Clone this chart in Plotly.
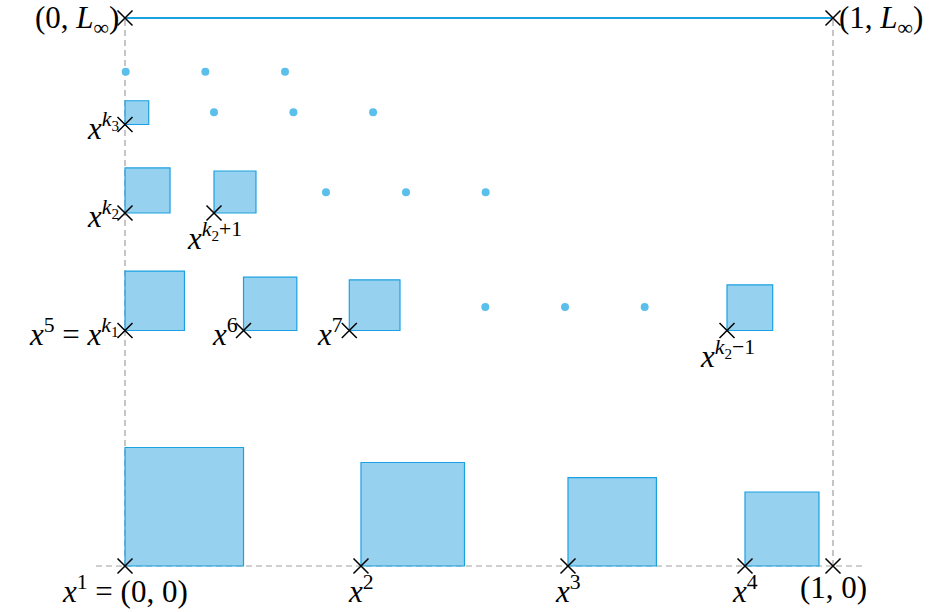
import plotly.graph_objects as go

# ---- data (x in [0,1], y in the same units; L_inf is the top level) ----
L_INF = 0.774

# square origins (lower-left corners, also the marked points) and side lengths
sq_x = [0.0, 0.3333, 0.6257, 0.8757,      # bottom row x^1..x^4
        0.0, 0.1674, 0.3168, 0.8503,      # row x^5(=x^{k1}), x^6, x^7, x^{k2-1}
        0.0, 0.1257,                      # row x^{k2}, x^{k2+1}
        0.0]                              # row x^{k3}
sq_y = [0.0, 0.0, 0.0, 0.0,
        0.3326, 0.3326, 0.3326, 0.3326,
        0.4986, 0.4986,
        0.6236]
sq_s = [0.1674, 0.1462, 0.1249, 0.1045,
        0.0840, 0.0753, 0.0716, 0.0645,
        0.0636, 0.0593,
        0.0335]
sq_labels = ["<i>x</i><sup>1</sup> = (0, 0)", "<i>x</i><sup>2</sup>", "<i>x</i><sup>3</sup>", "<i>x</i><sup>4</sup>",
             "<i>x</i><sup>5</sup> = <i>x</i><sup><i>k</i><sub>1</sub></sup>", "<i>x</i><sup>6</sup>", "<i>x</i><sup>7</sup>",
             "<i>x</i><sup><i>k</i><sub>2</sub>−1</sup>",
             "<i>x</i><sup><i>k</i><sub>2</sub></sup>", "<i>x</i><sup><i>k</i><sub>2</sub>+1</sup>",
             "<i>x</i><sup><i>k</i><sub>3</sub></sup>"]
# label placement: 'below', 'left'
sq_label_pos = ["below", "below", "below", "below",
                "left", "left", "left", "below",
                "left", "below",
                "left"]

# continuation dots
dot_x = [0.5089, 0.6215, 0.7340,
         0.2839, 0.3969, 0.5094,
         0.1257, 0.2379, 0.3504,
         0.0010, 0.1135, 0.2260]
dot_y = [0.3658, 0.3658, 0.3658,
         0.5278, 0.5278, 0.5278,
         0.6408, 0.6408, 0.6408,
         0.6982, 0.6982, 0.6982]

# corner points
corner_x = [1.0, 0.0, 1.0]
corner_y = [0.0, L_INF, L_INF]
corner_labels = ["(1, 0)", "(0, <i>L</i><sub>∞</sub>)", "(1, <i>L</i><sub>∞</sub>)"]
corner_pos = ["below", "left", "right"]

LINE_BLUE = "#1BA1E2"
FILL_BLUE = "rgba(120,196,236,0.78)"
DOT_BLUE = "#5BBFEB"
FONT = "Liberation Serif"

fig = go.Figure()

# dashed guide lines
fig.add_trace(go.Scatter(x=[-0.041, 1.045], y=[0, 0], mode="lines",
                         line=dict(color="#a0a0a0", width=1.2, dash="6px,4px"), hoverinfo="skip"))
fig.add_trace(go.Scatter(x=[0, 0], y=[0, L_INF], mode="lines",
                         line=dict(color="#a0a0a0", width=1.2, dash="6px,4px"), hoverinfo="skip"))
fig.add_trace(go.Scatter(x=[1, 1], y=[0, L_INF], mode="lines",
                         line=dict(color="#a0a0a0", width=1.2, dash="6px,4px"), hoverinfo="skip"))

# top line
fig.add_trace(go.Scatter(x=[0, 1], y=[L_INF, L_INF], mode="lines",
                         line=dict(color=LINE_BLUE, width=2), hoverinfo="skip"))

# squares
for x0, y0, s in zip(sq_x, sq_y, sq_s):
    fig.add_trace(go.Scatter(x=[x0, x0 + s, x0 + s, x0, x0], y=[y0, y0, y0 + s, y0 + s, y0],
                             mode="lines", fill="toself", fillcolor=FILL_BLUE,
                             line=dict(color=LINE_BLUE, width=1.2), hoverinfo="skip"))

# dots
fig.add_trace(go.Scatter(x=dot_x, y=dot_y, mode="markers",
                         marker=dict(color=DOT_BLUE, size=8), hoverinfo="skip"))

# crosses
fig.add_trace(go.Scatter(x=sq_x + corner_x, y=sq_y + corner_y, mode="markers",
                         marker=dict(symbol="x-thin", size=15, line=dict(color="black", width=1.5)),
                         hoverinfo="skip"))

annotations = []
for x0, y0, lab, pos in zip(sq_x + corner_x, sq_y + corner_y, sq_labels + corner_labels,
                            sq_label_pos + corner_pos):
    if pos == "below":
        annotations.append(dict(x=x0, y=y0, text=lab, showarrow=False, xanchor="center",
                                yanchor="top", yshift=-2))
    elif pos == "left":
        annotations.append(dict(x=x0, y=y0, text=lab, showarrow=False, xanchor="right",
                                yanchor="middle", xshift=-4, yshift=-2))
    else:
        annotations.append(dict(x=x0, y=y0, text=lab, showarrow=False, xanchor="left",
                                yanchor="middle", xshift=4, yshift=-2))

fig.update_layout(
    width=944, height=612,
    margin=dict(l=0, r=0, t=0, b=0),
    paper_bgcolor="white", plot_bgcolor="white",
    showlegend=False,
    font=dict(family=FONT, size=31, color="black"),
    xaxis=dict(range=[-125 / 708, 819 / 708], visible=False, fixedrange=True),
    yaxis=dict(range=[-46 / 708, 566 / 708], visible=False, fixedrange=True),
    annotations=annotations,
)

fig.write_html("out.html", config={"displayModeBar": False, "staticPlot": True},
               post_script="document.body.style.margin='0px';")
